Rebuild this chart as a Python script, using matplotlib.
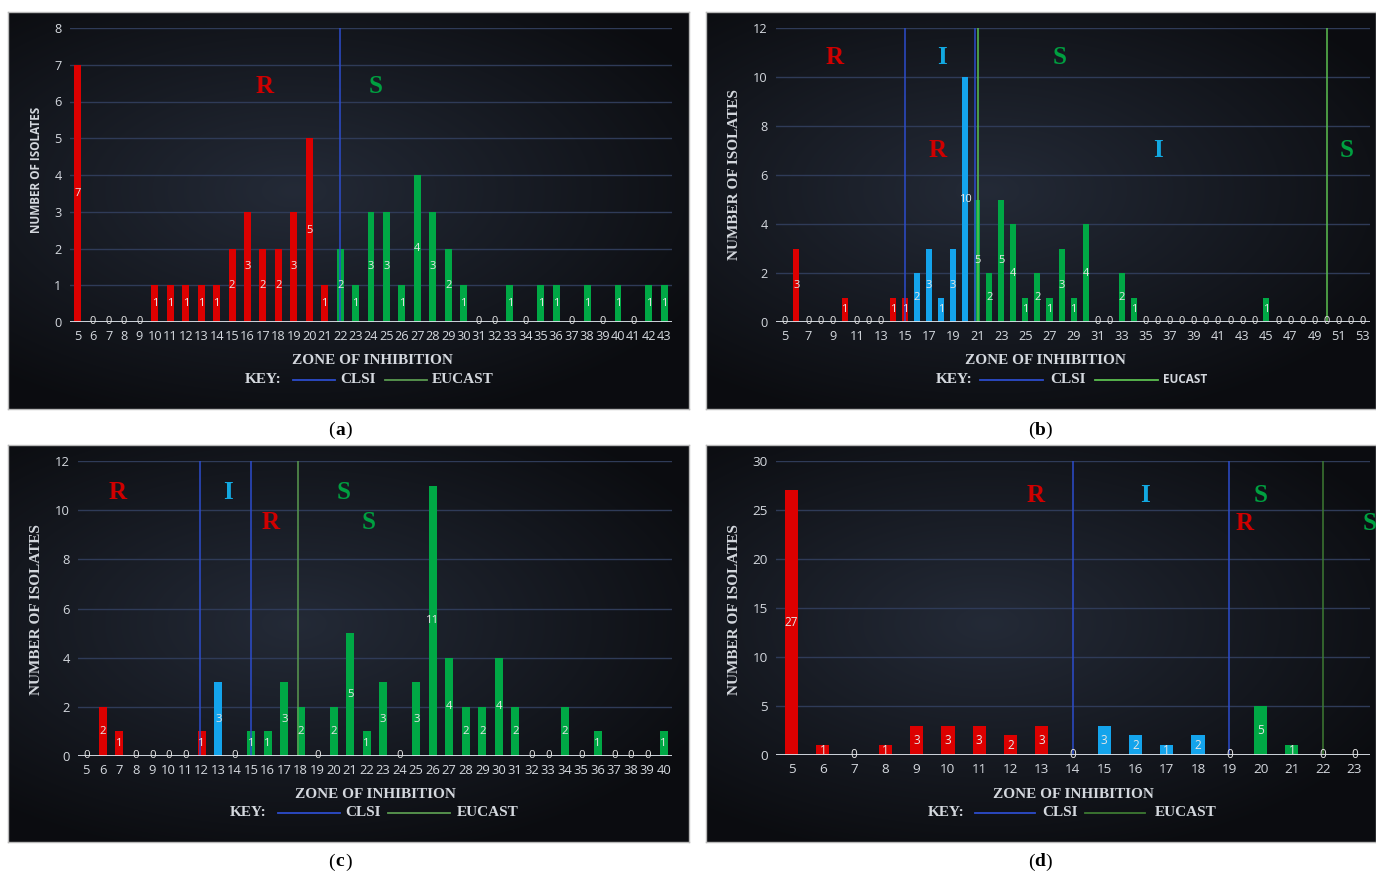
import numpy as np
import matplotlib
matplotlib.use("Agg")
import matplotlib.pyplot as plt

# ---- data ----
zones_a = list(range(5, 44))
counts_a = [7, 0, 0, 0, 0, 1, 1, 1, 1, 1, 2, 3, 2, 2, 3, 5, 1,
            2, 1, 3, 3, 1, 4, 3, 2, 1, 0, 0, 1, 0, 1, 1, 0, 1, 0, 1, 0, 1, 1]
class_a = ['R'] * 17 + ['S'] * 22
clsi_a = [22]
eucast_a = []

zones_b = list(range(5, 54))
counts_b = [0, 3, 0, 0, 0, 1, 0, 0, 0, 1, 1,
            2, 3, 1, 3, 10,
            5, 2, 5, 4, 1, 2, 1, 3, 1, 4, 0, 0, 2, 1,
            0, 0, 0, 0, 0, 0, 0, 0, 0, 0, 1, 0, 0, 0, 0, 0, 0, 0, 0]
class_b = ['R'] * 11 + ['I'] * 5 + ['S'] * 33
clsi_b = [15, 20.8]
eucast_b = [21.1, 50]

zones_c = list(range(5, 41))
counts_c = [0, 2, 1, 0, 0, 0, 0, 1, 3, 0, 1, 1, 3, 2, 0, 2, 5, 1, 3, 0,
            3, 11, 4, 2, 2, 4, 2, 0, 0, 2, 0, 1, 0, 0, 0, 1]
class_c = ['R'] * 8 + ['I'] * 2 + ['S'] * 26
clsi_c = [11.9, 15]
eucast_c = [17.85]

zones_d = list(range(5, 24))
counts_d = [27, 1, 0, 1, 3, 3, 3, 2, 3, 0, 3, 2, 1, 2, 0, 5, 1, 0, 0]
class_d = ['R'] * 9 + ['I'] * 6 + ['S'] * 4
clsi_d = [14, 19]
eucast_d = [22]

# zone letters: (text, x, y)
letters_a = [('R', 17.1, 6.4), ('S', 24.3, 6.4)]
letters_b = [('R', 9.2, 10.8), ('I', 18.1, 10.8), ('S', 27.8, 10.8),
             ('R', 17.7, 7.0), ('I', 36.0, 7.0), ('S', 51.7, 7.0)]
letters_c = [('R', 6.9, 10.7), ('I', 13.6, 10.7), ('S', 20.6, 10.7),
             ('R', 16.2, 9.5), ('S', 22.1, 9.5)]
letters_d = [('R', 12.8, 26.5), ('I', 16.3, 26.5), ('S', 20.0, 26.5),
             ('R', 19.5, 23.6), ('S', 23.5, 23.6)]

W, H = 1376, 874
fig = plt.figure(figsize=(W / 100, H / 100), dpi=100)
fig.patch.set_facecolor('white')

bar_col = {'R': '#dc0000', 'I': '#14a4ec', 'S': '#00a845'}
let_col = {'R': '#d00000', 'I': '#12a8e0', 'S': '#00a040'}
txt_col = '#d4d8de'


def px_axes(x0, y0, x1, y1, **kw):
    return fig.add_axes([x0 / W, 1 - y1 / H, (x1 - x0) / W, (y1 - y0) / H], **kw)


def background(x0, y0, x1, y1):
    bg = px_axes(x0, y0, x1, y1)
    yy, xx = np.mgrid[0:1:200j, 0:1:300j]
    r = np.sqrt(((xx - 0.42) / 0.9) ** 2 + ((yy - 0.45) / 0.8) ** 2)
    r = np.clip(r / 0.75, 0, 1)
    c0 = np.array([0.14, 0.165, 0.215])
    c1 = np.array([0.045, 0.05, 0.065])
    img = c0[None, None, :] * (1 - r[..., None]) + c1[None, None, :] * r[..., None]
    bg.imshow(img, aspect='auto', extent=[0, 1, 0, 1], interpolation='bilinear')
    bg.set_xlim(0, 1)
    bg.set_ylim(0, 1)
    bg.set_xticks([])
    bg.set_yticks([])
    for s in bg.spines.values():
        s.set_color('#b8b8b8')
        s.set_linewidth(1.0)
    return bg


def panel(box, ax_box, zones, counts, classes, clsi, eucast, letters,
          ymax, ystep, xlim, bw, xstep, tick_fs, ylab_pos, xlab_pos, key_pos,
          ylab_sans=False, eu_sans=False, eu_color='#5cb84a'):
    background(*box)
    ax = px_axes(*ax_box)
    ax.patch.set_alpha(0)
    cols = [bar_col[c] for c in classes]
    ax.bar(zones, counts, width=bw, color=cols, zorder=3)
    for z, v in zip(zones, counts):
        ax.text(z, v / 2, str(v), ha='center', va='center', color='#e6e6e6',
                fontsize=tick_fs, family='Open Sans', zorder=5)
    for x in clsi:
        ax.plot([x, x], [0, ymax], color='#2c4ccc', lw=1.1, zorder=4)
    for x in eucast:
        ax.plot([x, x], [0, ymax], color=eu_color, lw=1.1, zorder=4)
    for t, x, y in letters:
        ax.text(x, y, t, ha='center', va='center', color=let_col[t],
                fontsize=18, family='Liberation Serif', weight='bold',
                zorder=6, clip_on=False)
    ax.axhline(0, color='#dde3ea', lw=1.3, zorder=4)
    ax.set_xlim(*xlim)
    ax.set_ylim(0, ymax)
    ax.set_yticks(np.arange(0, ymax + 0.1, ystep))
    ax.yaxis.grid(True, color='#2f3b58', lw=1.0, zorder=0)
    ax.set_xticks(zones[::xstep])
    ax.tick_params(length=0, colors=txt_col, labelsize=tick_fs + 1.2, pad=6)
    for lab in ax.get_xticklabels() + ax.get_yticklabels():
        lab.set_family('Open Sans')
    for s in ax.spines.values():
        s.set_visible(False)

    # axis titles and key, placed in figure pixels
    yx, yy = ylab_pos
    if ylab_sans:
        fig.text(yx / W, 1 - yy / H, 'NUMBER OF ISOLATES', rotation=90,
                 ha='center', va='center', color=txt_col, fontsize=8.5,
                 family='Open Sans', weight='bold')
    else:
        fig.text(yx / W, 1 - yy / H, 'NUMBER OF ISOLATES', rotation=90,
                 ha='center', va='center', color=txt_col, fontsize=11,
                 family='Liberation Serif', weight='bold')
    xx, xy = xlab_pos
    fig.text(xx / W, 1 - xy / H, 'ZONE OF INHIBITION', ha='center', va='center',
             color=txt_col, fontsize=11, family='Liberation Serif', weight='bold')
    kx, ky, l1, l2, c1, l3, l4, e1 = key_pos
    serif = dict(color=txt_col, fontsize=11, family='Liberation Serif',
                 weight='bold', va='center', ha='left')
    fig.text(kx / W, 1 - ky / H, 'KEY:', **serif)
    fig.add_artist(plt.Line2D([l1 / W, l2 / W], [1 - ky / H] * 2,
                              color='#2c4ccc', lw=1.3))
    fig.text(c1 / W, 1 - ky / H, 'CLSI', **serif)
    fig.add_artist(plt.Line2D([l3 / W, l4 / W], [1 - ky / H] * 2,
                              color=eu_color, lw=1.3))
    if eu_sans:
        fig.text(e1 / W, 1 - ky / H, 'EUCAST', color=txt_col, fontsize=8.5,
                 family='Open Sans', weight='bold', va='center', ha='left')
    else:
        fig.text(e1 / W, 1 - ky / H, 'EUCAST', **serif)
    return ax


panel((8, 12, 689, 409), (70, 28, 672, 322), zones_a, counts_a, class_a,
      clsi_a, eucast_a, letters_a, 8, 1, (4.5, 43.5), 0.45, 1, 8,
      (37, 170), (372, 361), (245, 380, 293, 335, 340, 385, 427, 432),
      ylab_sans=True, eu_color='#5a9a50')
panel((706, 12, 1376, 409), (776, 28, 1370, 322), zones_b, counts_b, class_b,
      clsi_b, eucast_b, letters_b, 12, 2, (4.3, 53.6), 0.5, 2, 8,
      (735, 175), (1045, 361), (936, 380, 980, 1043, 1050, 1095, 1158, 1163),
      eu_sans=True, eu_color='#5cc050')
panel((8, 445, 689, 842), (78, 461, 672, 756), zones_c, counts_c, class_c,
      clsi_c, eucast_c, letters_c, 12, 2, (4.5, 40.5), 0.5, 1, 8.2,
      (37, 610), (375, 795), (230, 813, 278, 340, 345, 388, 450, 457),
      eu_color='#5a9a50')
panel((706, 445, 1376, 842), (776, 461, 1370, 755), zones_d, counts_d, class_d,
      clsi_d, eucast_d, letters_d, 30, 5, (4.5, 23.5), 0.42, 1, 8.5,
      (735, 610), (1073, 795), (928, 813, 975, 1035, 1042, 1085, 1145, 1155),
      eu_color='#3d7a32')

# captions "(a)" with bold letter
for lab, x, y in [('a', 340, 430), ('b', 1040, 430), ('c', 340, 862), ('d', 1040, 862)]:
    fy = 1 - y / H
    fig.text((x - 5) / W, fy, '(', ha='right', va='center', color='black',
             fontsize=14, family='Liberation Serif')
    fig.text(x / W, fy, lab, ha='center', va='center', color='black',
             fontsize=14, family='Liberation Serif', weight='bold')
    fig.text((x + 5) / W, fy, ')', ha='left', va='center', color='black',
             fontsize=14, family='Liberation Serif')

fig.savefig('out.png', dpi=100, facecolor='white')
